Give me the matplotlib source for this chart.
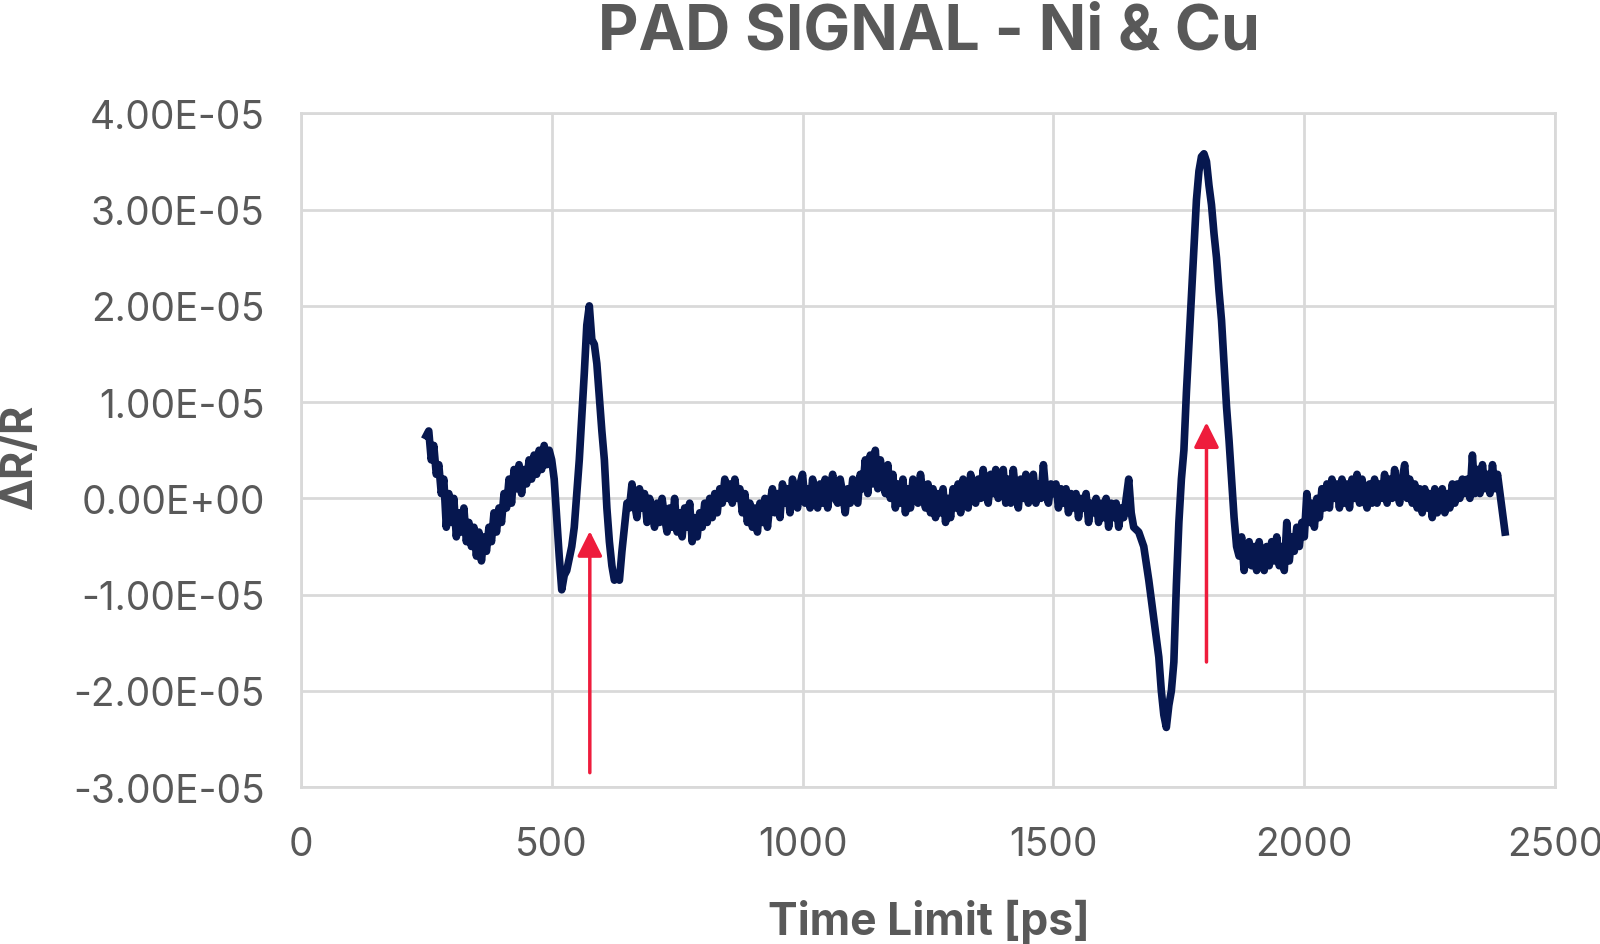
import numpy as np
import matplotlib
matplotlib.use('Agg')
import matplotlib.pyplot as plt
from matplotlib.ticker import FuncFormatter

plt.rcParams['font.family'] = ['Inter', 'DejaVu Sans']

# signal: time [ps] and dR/R in units of 1e-5
time_ps = [
    250, 255, 260, 265, 270, 275, 280, 285, 290, 295, 300, 305, 310, 315, 320, 325, 330, 335, 340, 345,
    350, 355, 360, 365, 370, 375, 380, 385, 390, 395, 400, 405, 410, 415, 420, 425, 430, 435, 440, 445,
    450, 455, 460, 465, 470, 475, 480, 485, 490, 495, 500,
    505, 510, 515, 520, 525, 530, 540, 545, 550, 555, 560, 565, 570, 575, 580, 585,
    590, 595, 600, 605, 610, 615, 620, 625, 630, 635, 640, 645, 650, 655,
    660, 665, 670, 675, 680, 685, 690, 695, 700, 705, 710, 715, 720, 725, 730, 735, 740, 745, 750, 755,
    760, 765, 770, 775, 780, 785, 790, 795, 800, 805, 810, 815, 820, 825, 830, 835, 840, 845, 850, 855,
    860, 865, 870, 875, 880, 885, 890, 895, 900, 905, 910, 915, 920, 925, 930, 935, 940, 945, 950, 955,
    960, 965, 970, 975, 980, 985, 990, 995, 1000, 1005, 1010, 1015, 1020, 1025, 1030, 1035, 1040, 1045, 1050, 1055,
    1060, 1065, 1070, 1075, 1080, 1085, 1090, 1095, 1100, 1105, 1110, 1115, 1120, 1125, 1130, 1135, 1140, 1145, 1150, 1155,
    1160, 1165, 1170, 1175, 1180, 1185, 1190, 1195, 1200, 1205, 1210, 1215, 1220, 1225, 1230, 1235, 1240, 1245, 1250, 1255,
    1260, 1265, 1270, 1275, 1280, 1285, 1290, 1295, 1300, 1305, 1310, 1315, 1320, 1325, 1330, 1335, 1340, 1345, 1350, 1355,
    1360, 1365, 1370, 1375, 1380, 1385, 1390, 1395, 1400, 1405, 1410, 1415, 1420, 1425, 1430, 1435, 1440, 1445, 1450, 1455,
    1460, 1465, 1470, 1475, 1480, 1485, 1490, 1495, 1500, 1505, 1510, 1515, 1520, 1525, 1530, 1535, 1540, 1545, 1550, 1555,
    1560, 1565, 1570, 1575, 1580, 1585, 1590, 1595, 1600, 1605, 1610, 1615, 1620, 1625, 1630, 1635, 1640, 1645, 1650, 1655,
    1660, 1670, 1680, 1690, 1700, 1710, 1715, 1720, 1725, 1730, 1735, 1740, 1745, 1750,
    1755, 1760, 1765, 1770, 1775, 1780, 1785, 1790, 1795, 1800, 1805, 1810, 1815, 1820,
    1825, 1830, 1835, 1840, 1845, 1850, 1855, 1860, 1865,
    1870, 1875, 1880, 1885, 1890, 1895, 1900, 1905, 1910, 1915, 1920, 1925, 1930, 1935, 1940, 1945, 1950, 1955, 1960, 1965,
    1970, 1975, 1980, 1985, 1990, 1995, 2000, 2005, 2010, 2015, 2020, 2025, 2030, 2035, 2040, 2045, 2050, 2055, 2060, 2065,
    2070, 2075, 2080, 2085, 2090, 2095, 2100, 2105, 2110, 2115, 2120, 2125, 2130, 2135, 2140, 2145, 2150, 2155, 2160, 2165,
    2170, 2175, 2180, 2185, 2190, 2195, 2200, 2205, 2210, 2215, 2220, 2225, 2230, 2235, 2240, 2245, 2250, 2255, 2260, 2265,
    2270, 2275, 2280, 2285, 2290, 2295, 2300, 2305, 2310, 2315, 2320, 2325, 2330, 2335, 2340, 2345, 2350, 2355, 2360, 2365,
    2370, 2375, 2380, 2385, 2390, 2395, 2400,
]
dr_r = [
    0.65, 0.70, 0.40, 0.55, 0.25, 0.35, 0.05, 0.20, -0.30, 0.05, -0.25, 0.00, -0.40, -0.15, -0.35, -0.10, -0.45, -0.25, -0.50, -0.30,
    -0.60, -0.35, -0.65, -0.40, -0.55, -0.30, -0.45, -0.15, -0.35, -0.10, -0.25, 0.05, -0.10, 0.20, -0.05, 0.30, 0.10, 0.35, 0.05, 0.30,
    0.15, 0.40, 0.20, 0.45, 0.25, 0.50, 0.30, 0.55, 0.35, 0.50, 0.40,
    0.20, -0.20, -0.60, -0.95, -0.80, -0.75, -0.50, -0.30, 0.05, 0.40, 0.85, 1.30, 1.80, 2.00, 1.65, 1.60,
    1.40, 1.05, 0.70, 0.40, -0.10, -0.45, -0.70, -0.85, -0.80, -0.85, -0.55, -0.30, -0.05, -0.10,
    0.15, -0.05, -0.20, 0.10, -0.10, 0.05, -0.25, 0.00, -0.10, -0.30, -0.05, -0.25, 0.00, -0.20, -0.35, -0.10, -0.30, 0.00, -0.35, -0.15,
    -0.40, -0.10, -0.30, -0.05, -0.45, -0.20, -0.40, -0.15, -0.30, -0.05, -0.25, 0.00, -0.20, 0.05, -0.15, 0.10, -0.05, 0.20, 0.00, 0.15,
    -0.05, 0.20, 0.00, 0.10, -0.15, 0.05, -0.25, -0.05, -0.30, -0.10, -0.35, -0.05, -0.25, 0.00, -0.30, -0.05, 0.10, -0.15, 0.05, -0.20,
    0.15, -0.05, 0.10, -0.15, 0.20, 0.00, -0.10, 0.15, 0.25, -0.05, 0.10, -0.10, 0.20, 0.00, -0.10, 0.15, -0.05, 0.20, -0.10, 0.10,
    0.25, 0.00, -0.05, 0.20, 0.05, -0.15, 0.10, -0.05, 0.20, 0.00, -0.05, 0.25, 0.10, 0.40, 0.05, 0.45, 0.15, 0.50, 0.10, 0.40,
    0.20, 0.05, 0.35, 0.00, 0.25, -0.10, 0.15, -0.05, 0.20, -0.15, 0.10, -0.10, 0.20, 0.00, -0.05, 0.25, 0.05, -0.10, 0.15, -0.15,
    0.10, -0.20, 0.05, -0.15, 0.10, -0.25, 0.00, -0.20, 0.10, -0.10, 0.15, -0.15, 0.20, 0.00, -0.10, 0.25, 0.05, -0.05, 0.20, 0.00,
    0.30, 0.05, -0.05, 0.25, 0.05, 0.30, 0.00, 0.20, 0.30, -0.05, 0.20, -0.05, 0.30, 0.05, -0.10, 0.20, 0.00, 0.25, -0.05, 0.15,
    0.25, -0.05, 0.15, 0.00, 0.35, 0.05, -0.05, 0.15, 0.05, 0.15, -0.10, 0.10, -0.05, 0.10, -0.15, 0.05, -0.10, 0.05, -0.20, 0.00,
    -0.10, 0.05, -0.25, -0.05, -0.15, 0.00, -0.25, -0.05, -0.20, 0.00, -0.30, -0.05, -0.20, -0.05, -0.30, -0.10, -0.20, 0.00, 0.20, -0.15,
    -0.30, -0.35, -0.50, -0.85, -1.25, -1.65, -2.00, -2.25, -2.38, -2.15, -2.00, -1.70, -0.90, -0.25,
    0.20, 0.50, 1.10, 1.60, 2.10, 2.60, 3.10, 3.40, 3.55, 3.58, 3.50, 3.25, 3.05, 2.75,
    2.50, 2.15, 1.85, 1.40, 0.95, 0.60, 0.20, -0.20, -0.50,
    -0.60, -0.40, -0.75, -0.55, -0.45, -0.70, -0.50, -0.75, -0.45, -0.65, -0.75, -0.50, -0.70, -0.45, -0.65, -0.40, -0.70, -0.50, -0.75, -0.25,
    -0.65, -0.40, -0.55, -0.30, -0.50, -0.25, -0.40, 0.05, -0.25, -0.05, -0.30, 0.00, -0.20, 0.10, -0.10, 0.15, -0.10, 0.20, 0.00, 0.15,
    -0.10, 0.20, -0.05, 0.15, -0.10, 0.20, 0.00, 0.25, -0.05, 0.20, 0.00, -0.10, 0.15, -0.05, 0.20, -0.05, 0.15, 0.00, 0.25, -0.05,
    0.20, 0.00, 0.30, 0.05, -0.05, 0.20, 0.35, 0.00, 0.20, -0.05, 0.15, -0.10, 0.10, -0.15, 0.10, -0.10, 0.05, -0.20, 0.10, -0.15,
    -0.05, 0.10, -0.15, 0.05, -0.10, 0.15, -0.05, 0.15, 0.00, 0.20, 0.05, 0.20, 0.00, 0.45, 0.05, 0.30, 0.05, 0.35, 0.10, 0.25,
    0.05, 0.35, 0.10, 0.25, 0.05, -0.15, -0.35,
]

# red arrows: x position, tail and head (units of 1e-5)
arrow_x = [576, 1805]
arrow_tail = [-2.85, -1.70]
arrow_head = [-0.34, 0.79]

x_ticks = [0, 500, 1000, 1500, 2000, 2500]
y_ticks = [-3e-5, -2e-5, -1e-5, 0, 1e-5, 2e-5, 3e-5, 4e-5]

text_col = '#595959'
grid_col = '#d9d9d9'
line_col = '#06174f'
red = '#ee1c3c'

fig = plt.figure(figsize=(16, 9.45), dpi=100)
ax = fig.add_axes([0.188, 0.166, 0.784, 0.713])

y = np.array(dr_r) * 1e-5
ax.plot(time_ps, y, color=line_col, lw=5.5, solid_joinstyle='round', zorder=3)

for xa, t, h in zip(arrow_x, arrow_tail, arrow_head):
    ax.annotate('', xy=(xa, h * 1e-5), xytext=(xa, t * 1e-5),
                arrowprops=dict(arrowstyle='-|>', color=red, lw=2.5,
                                mutation_scale=38, shrinkA=0, shrinkB=0),
                zorder=4)

ax.set_xlim(0, 2500)
ax.set_ylim(-3e-5, 4e-5)
ax.set_xticks(x_ticks)
ax.set_yticks(y_ticks)
ax.yaxis.set_major_formatter(FuncFormatter(lambda v, p: f"{v:.2E}"))
ax.grid(True, color=grid_col, lw=2)
ax.set_axisbelow(True)
for s in ax.spines.values():
    s.set_color(grid_col)
    s.set_linewidth(2)
ax.tick_params(length=0, labelsize=28, labelcolor=text_col)
ax.tick_params(axis='x', pad=28)
ax.tick_params(axis='y', pad=26)

fig.text(0.5805, 1 - 33 / 945, 'PAD SIGNAL - Ni & Cu', ha='center', va='center',
         fontsize=45, fontweight='bold', color=text_col)
fig.text(0.5805, 1 - 922 / 945, 'Time Limit [ps]', ha='center', va='center',
         fontsize=32, fontweight='bold', color=text_col)
fig.text(20 / 1600, 1 - 456 / 945, 'ΔR/R', ha='center', va='center', rotation=90,
         fontsize=31, fontweight='bold', color=text_col)

fig.savefig('out.png', dpi=100)
